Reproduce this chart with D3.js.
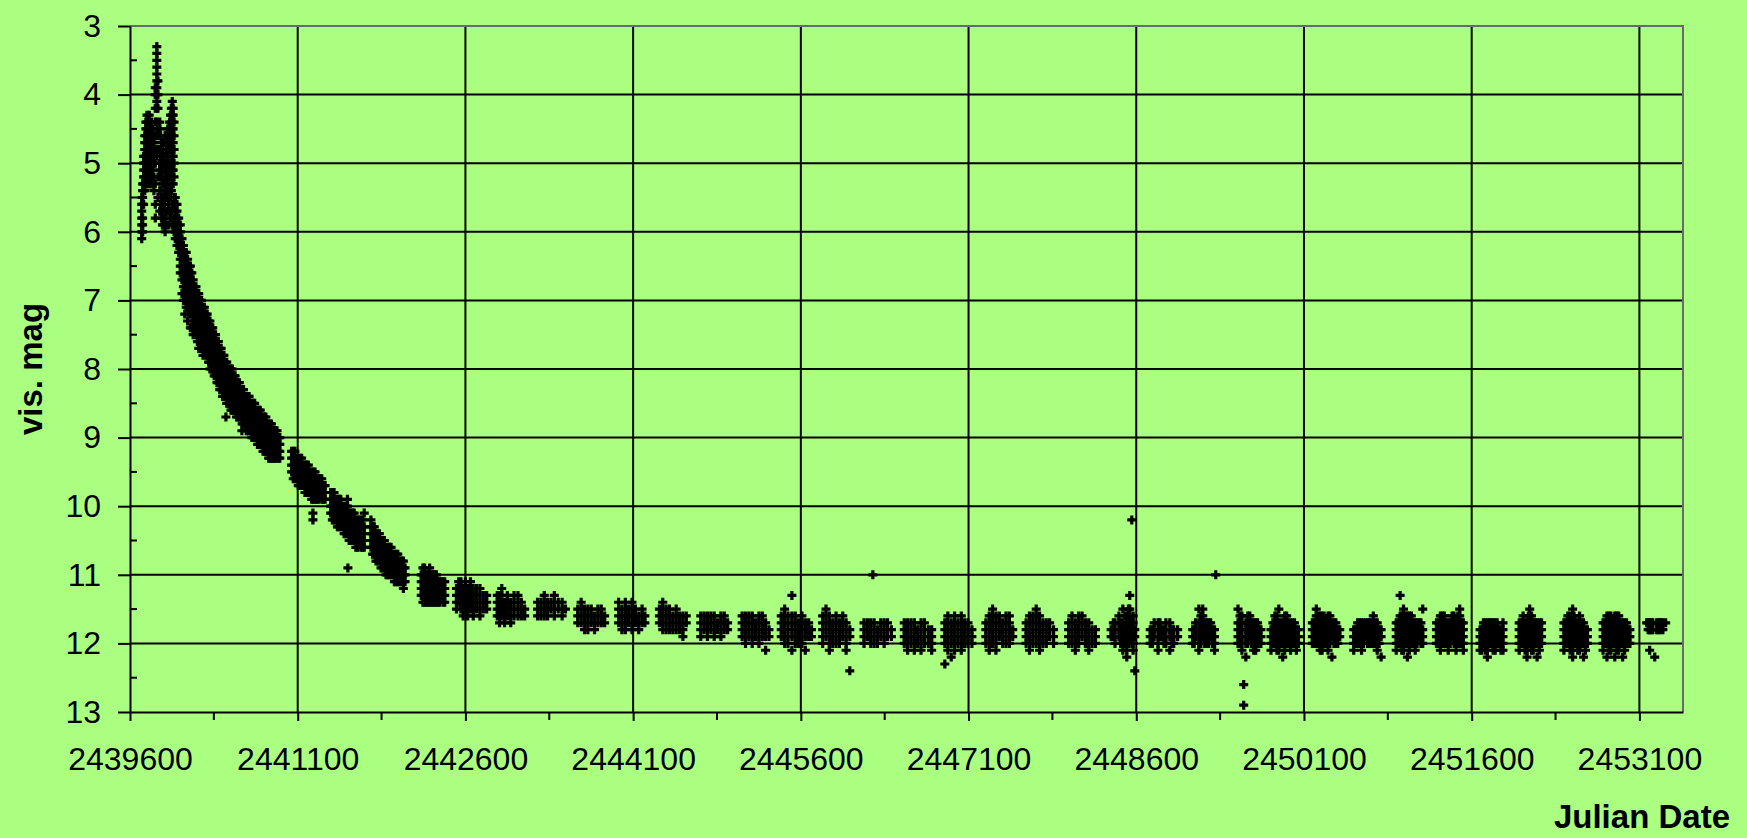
<!DOCTYPE html>
<html>
<head>
<meta charset="utf-8">
<script src="https://cdn.jsdelivr.net/npm/d3@7"></script>
<style>
  html, body { margin: 0; padding: 0; background: #abff80; }
  svg { display: block; }
  text { font-family: "Liberation Sans", Arial, sans-serif; fill: #000; }
</style>
</head>
<body>
<svg id="chart" width="1747" height="838"></svg>
<script>
// Julian Dates are stored reduced (JD - 2400000); the axis adds the base back.
const JD_BASE = 2400000;

// Axis ticks
const xTicks = [39600, 41100, 42600, 44100, 45600, 47100, 48600, 50100, 51600, 53100];
const xMinorTicks = [40350, 41850, 43350, 44850, 46350, 47850, 49350, 50850, 52350];
const yTicks = [3, 4, 5, 6, 7, 8, 9, 10, 11, 12, 13];
const yMinorTicks = [3.5, 4.5, 5.5, 6.5, 7.5, 8.5, 9.5, 10.5, 11.5, 12.5];

// Visual estimates: each entry is [reduced JD, [magnitudes reported that night]]
const obs1967 = [
  [39705,[5.5,5.6,5.7,5.8,5.9,6.0,6.1]],[39713,[5.3,5.4,5.5,5.6,5.8,5.9,6.0]],
  [39722,[4.9,5.0,5.1,5.2,5.3,5.4,5.6]],[39732,[4.6,4.7,4.8,4.9,5.0,5.1,5.2,5.3,5.4]],
  [39742,[4.4,4.5,4.6,4.7,4.8,4.9,5.0,5.2,5.3]],[39752,[4.3,4.4,4.5,4.6,4.8,4.9,5.0,5.1,5.3]],
  [39762,[4.4,4.5,4.6,4.7,4.8,5.0,5.1,5.2]],[39772,[4.3,4.5,4.6,4.7,4.9,5.0,5.2,5.3]],
  [39782,[4.5,4.6,4.7,4.8,4.9,5.0,5.1,5.3]],[39792,[4.4,4.5,4.6,4.8,4.9,5.0,5.2]],
  [39802,[4.5,4.6,4.7,4.8,5.0,5.1,5.3]],[39814,[4.6,4.7,4.9,5.0,5.2,5.4]],
  [39826,[3.9,4.0,4.2,4.4,4.6,4.8,5.0,5.3,5.6,5.8]],
  [39840,[3.3,3.4,3.5,3.6,3.7,3.8,3.9,4.0,4.1,4.2,4.4,4.6,4.9]],
  [39850,[3.8,4.0,4.2,4.5,4.8,5.2,5.5]]
];
const obs1968 = [
  [39866,[4.4,4.5,4.6,4.8,5.0,5.1,5.4,5.7]],[39874,[4.6,4.8,4.9,5.2,5.4,5.6]],
  [39882,[4.7,4.9,5.1,5.2,5.5,5.8]],[39890,[4.8,5.0,5.3,5.5,5.7,5.9]],
  [39898,[4.9,5.0,5.3,5.6,5.9]],[39906,[4.7,4.9,5.1,5.4,5.6,5.8]],
  [39914,[4.6,5.0,5.2,5.5,5.8,6.0]],[39922,[4.6,4.8,5.0,5.3,5.5,5.7]],
  [39930,[4.6,4.8,5.1,5.4,5.7,5.9]],[39938,[4.5,4.7,4.9,5.2,5.5]],
  [39946,[4.5,4.7,5.0,5.3,5.6,5.9]],[39954,[4.4,4.6,4.8,5.1,5.4,5.7]],
  [39962,[4.3,4.5,4.7,4.8,5.0,5.2,5.5,5.8]],[39970,[4.2,4.4,4.6,4.9,5.1,5.4,5.7]],
  [39978,[4.1,4.2,4.3,4.4,4.5,4.6,4.8,4.9,5.1,5.3,5.6,5.9]],
  [39986,[4.2,4.3,4.5,4.7,4.9,5.1,5.3,5.6,5.9]],[39994,[4.4,4.6,4.8,5.0,5.2,5.5,5.8,6.0]],
  [40005,[5.5,5.6,5.7,5.8,5.9,6.0,6.1]],[40020,[5.6,5.7,5.8,5.9,6.0,6.1,6.2]],
  [40035,[5.8,5.9,6.0,6.1,6.2,6.3]],[40050,[5.9,6.0,6.1,6.2,6.3,6.4,6.5,6.6]],
  [40065,[6.1,6.2,6.3,6.4,6.5,6.6,6.7,6.9]],[40078,[6.2,6.3,6.5,6.6,6.8,7.0]],
  [40090,[6.3,6.4,6.5,6.6,6.7,6.8,6.9,7.0,7.2]],[40103,[6.3,6.5,6.6,6.8,6.9,7.1]],
  [40115,[6.4,6.5,6.6,6.7,6.8,6.9,7.0,7.1,7.3]],[40128,[6.5,6.6,6.8,6.9,7.1,7.2]],
  [40140,[6.5,6.6,6.7,6.8,6.9,7.0,7.1,7.2,7.4]],[40153,[6.6,6.8,6.9,7.1,7.2,7.4]],
  [40165,[6.7,6.8,6.9,7.0,7.1,7.2,7.3,7.5]],[40178,[6.8,6.9,7.0,7.2,7.3,7.4]],
  [40190,[6.8,6.9,7.0,7.1,7.2,7.3,7.4,7.5]]
];
const obs1969 = [
  [40203,[6.9,7.0,7.1,7.3,7.4,7.6]],[40215,[6.9,7.0,7.1,7.2,7.3,7.4,7.5,7.7]],
  [40228,[7.0,7.1,7.2,7.4,7.5,7.6]],[40240,[7.0,7.1,7.2,7.3,7.4,7.5,7.6,7.7]],
  [40253,[7.1,7.2,7.3,7.5,7.6,7.8]],[40265,[7.1,7.2,7.3,7.4,7.5,7.6,7.7]],
  [40278,[7.2,7.3,7.4,7.6,7.7,7.8]],[40290,[7.2,7.3,7.4,7.5,7.6,7.7,7.8]],
  [40303,[7.3,7.4,7.5,7.6,7.8,7.9]],[40315,[7.3,7.4,7.5,7.6,7.7,7.8,7.9,8.0]],
  [40328,[7.4,7.5,7.6,7.8,7.9,8.0]],[40340,[7.4,7.5,7.6,7.7,7.8,7.9,8.0]],
  [40353,[7.5,7.6,7.7,7.9,8.0,8.1]],[40365,[7.5,7.6,7.7,7.8,7.9,8.0,8.1]],
  [40378,[7.6,7.7,7.8,8.0,8.1,8.2]],[40390,[7.6,7.7,7.8,7.9,8.0,8.1,8.2]],
  [40403,[7.7,7.8,7.9,8.1,8.2,8.3]],[40415,[7.7,7.8,7.9,8.0,8.1,8.2,8.3]],
  [40428,[7.8,7.9,8.0,8.2,8.3,8.4]],[40440,[7.8,7.9,8.0,8.1,8.2,8.3,8.4]],
  [40453,[7.9,8.0,8.1,8.3,8.4]],[40458,[8.7]],[40465,[7.9,8.0,8.1,8.2,8.3,8.4,8.5]],
  [40478,[8.0,8.1,8.2,8.4,8.5]],[40490,[8.0,8.1,8.2,8.3,8.4,8.5]],
  [40503,[8.0,8.2,8.3,8.4,8.6]],[40515,[8.0,8.1,8.2,8.3,8.4,8.5,8.6]],
  [40528,[8.1,8.2,8.4,8.5,8.6]],[40540,[8.1,8.2,8.3,8.4,8.5,8.6]],
  [40553,[8.2,8.3,8.4,8.6,8.7]],[40565,[8.2,8.3,8.4,8.5,8.6,8.7]]
];
const obs1970 = [
  [40578,[8.2,8.3,8.5,8.6,8.7]],[40590,[8.3,8.4,8.5,8.6,8.7]],[40601,[8.9]],
  [40603,[8.3,8.4,8.6,8.7,8.8]],[40615,[8.3,8.4,8.5,8.6,8.7,8.8]],
  [40628,[8.4,8.5,8.6,8.7,8.8]],[40640,[8.4,8.5,8.6,8.7,8.8,8.9]],
  [40653,[8.4,8.5,8.7,8.8,8.9]],[40665,[8.4,8.5,8.6,8.7,8.8,8.9]],
  [40678,[8.5,8.6,8.7,8.8,8.9]],[40690,[8.5,8.6,8.7,8.8,8.9,9.0]],
  [40703,[8.5,8.6,8.8,8.9,9.0]],[40715,[8.5,8.6,8.7,8.8,8.9,9.0]],
  [40728,[8.6,8.7,8.8,8.9,9.0]],[40740,[8.6,8.7,8.8,8.9,9.0,9.1]],
  [40753,[8.6,8.7,8.9,9.0,9.1]],[40765,[8.6,8.7,8.8,8.9,9.0,9.1]],
  [40778,[8.7,8.8,8.9,9.0,9.1]],[40790,[8.7,8.8,8.9,9.0,9.1,9.2]],
  [40803,[8.7,8.8,9.0,9.1,9.2]],[40815,[8.7,8.8,8.9,9.0,9.1,9.2]],
  [40828,[8.8,8.9,9.0,9.1,9.2]],[40840,[8.8,8.9,9.0,9.1,9.2,9.3]],
  [40853,[8.8,8.9,9.0,9.2,9.3]],[40865,[8.8,8.9,9.0,9.1,9.2,9.3]],
  [40878,[8.9,9.0,9.1,9.2,9.3]],[40890,[8.9,9.0,9.1,9.2,9.3]],
  [40903,[8.9,9.0,9.2,9.3]],[40915,[8.9,9.0,9.1,9.2]],
  [40928,[9.0,9.1,9.2,9.3]],[40940,[9.0,9.1,9.2,9.3]]
];
const obs1971 = [
  [41045,[9.2,9.3,9.4,9.5]],[41060,[9.2,9.3,9.4,9.5,9.6]],[41075,[9.2,9.3,9.4,9.5,9.6]],
  [41090,[9.3,9.4,9.5,9.6]],[41105,[9.3,9.4,9.5,9.6,9.7]],[41120,[9.3,9.4,9.5,9.6,9.7]],
  [41135,[9.3,9.4,9.5,9.6,9.7]],[41150,[9.4,9.5,9.6,9.7]],[41165,[9.4,9.5,9.6,9.7,9.8]],
  [41180,[9.4,9.5,9.6,9.7,9.8]],[41195,[9.4,9.5,9.6,9.7,9.8]],[41210,[9.5,9.6,9.7,9.8]],
  [41225,[9.5,9.6,9.7,9.8,9.9]],[41236,[10.1,10.2]],[41240,[9.5,9.6,9.7,9.8,9.9]],
  [41255,[9.5,9.6,9.7,9.8,9.9]],[41270,[9.6,9.7,9.8,9.9]],[41285,[9.6,9.7,9.8,9.9]],
  [41300,[9.6,9.7,9.8]],[41315,[9.6,9.7,9.8,9.9]],[41330,[9.7,9.8,9.9]],[41345,[9.7,9.8,9.9]]
];
const obs1972 = [
  [41395,[9.8,9.9,10.0,10.1]],[41410,[9.8,9.9,10.0,10.1,10.2]],[41425,[9.8,9.9,10.0,10.1,10.2]],
  [41440,[9.9,10.0,10.1,10.2]],[41455,[9.9,10.0,10.1,10.2,10.3]],[41470,[9.9,10.0,10.1,10.2,10.3]],
  [41485,[9.9,10.0,10.1,10.2,10.3]],[41500,[10.0,10.1,10.2,10.3]],[41515,[10.0,10.1,10.2,10.3,10.4]],
  [41530,[10.0,10.1,10.2,10.3,10.4]],[41545,[9.9,10.0,10.1,10.2,10.3,10.4]],[41549,[10.9]],
  [41560,[10.1,10.2,10.3,10.4,10.5]],[41575,[10.1,10.2,10.3,10.4,10.5]],
  [41590,[10.1,10.2,10.3,10.4,10.5]],[41605,[10.1,10.2,10.3,10.4,10.5]],
  [41620,[10.2,10.3,10.4,10.5,10.6]],[41635,[10.2,10.3,10.4,10.5,10.6]],
  [41650,[10.2,10.3,10.4,10.5]],[41665,[10.2,10.3,10.4,10.5,10.6]],
  [41680,[10.2,10.3,10.5,10.6]],[41695,[10.1,10.3,10.4,10.5,10.6]]
];
const obs1973 = [
  [41755,[10.2,10.3,10.4,10.5,10.6]],[41770,[10.3,10.4,10.5,10.6,10.7]],
  [41785,[10.3,10.4,10.5,10.6,10.7]],[41800,[10.4,10.5,10.6,10.7,10.8]],
  [41815,[10.4,10.5,10.6,10.7,10.8]],[41830,[10.4,10.5,10.6,10.7,10.8]],
  [41845,[10.5,10.6,10.7,10.8,10.9]],[41860,[10.5,10.6,10.7,10.8,10.9]],
  [41875,[10.5,10.6,10.7,10.8,10.9]],[41890,[10.6,10.7,10.8,10.9,11.0]],
  [41905,[10.6,10.7,10.8,10.9,11.0]],[41920,[10.6,10.7,10.8,10.9,11.0]],
  [41935,[10.6,10.7,10.8,10.9,11.0]],[41950,[10.7,10.8,10.9,11.0]],
  [41965,[10.7,10.8,10.9,11.0,11.1]],[41980,[10.7,10.8,10.9,11.0,11.1]],
  [41995,[10.7,10.8,10.9,11.0,11.1]],[42012,[10.8,10.9,11.0,11.1]],
  [42030,[10.8,10.9,11.0,11.1]],[42045,[10.8,10.9,11.0,11.1,11.2]],[42060,[10.9,11.0,11.1]]
];
const obs1974 = [
  [42205,[11.0,11.1,11.2,11.3]],[42220,[10.9,11.0,11.1,11.2,11.3,11.4]],
  [42235,[10.9,11.0,11.1,11.2,11.3,11.4]],[42250,[11.0,11.1,11.2,11.3,11.4]],
  [42265,[11.0,11.1,11.2,11.3,11.4]],[42280,[10.9,11.0,11.1,11.2,11.3,11.4]],
  [42295,[11.0,11.1,11.2,11.3,11.4]],[42310,[11.0,11.1,11.2,11.3,11.4]],
  [42325,[11.0,11.1,11.2,11.3,11.4]],[42340,[11.0,11.1,11.2,11.3,11.4]],
  [42355,[11.1,11.2,11.3,11.4]],[42370,[11.1,11.2,11.3,11.4]],
  [42385,[11.1,11.2,11.3]],[42400,[11.1,11.2,11.3,11.4]],[42415,[11.1,11.2,11.3,11.4]]
];
const obs1975 = [
  [42520,[11.2,11.3,11.4,11.5]],[42540,[11.1,11.2,11.3,11.4]],[42560,[11.1,11.2,11.3,11.4,11.5]],
  [42580,[11.2,11.3,11.4,11.5,11.6]],[42600,[11.1,11.3,11.4,11.5]],[42620,[11.2,11.3,11.4,11.5,11.6]],
  [42645,[11.1,11.2,11.3,11.4,11.5]],[42670,[11.2,11.3,11.4,11.5,11.6]],
  [42700,[11.2,11.3,11.4,11.5]],[42730,[11.2,11.3,11.4,11.5,11.6]],
  [42760,[11.3,11.4,11.5]],[42790,[11.3,11.4,11.5]]
];
const obs1976 = [
  [42885,[11.3,11.4,11.5,11.6]],[42905,[11.3,11.4,11.5,11.6,11.7]],[42925,[11.2,11.3,11.4,11.5,11.6]],
  [42950,[11.4,11.5,11.6,11.7]],[42975,[11.3,11.4,11.5,11.6]],[43005,[11.4,11.5,11.6,11.7]],
  [43035,[11.3,11.4,11.5,11.6]],[43070,[11.3,11.4,11.5,11.6]],[43100,[11.4,11.5,11.6]],
  [43130,[11.5,11.6]]
];
const obs1977 = [
  [43245,[11.4,11.5,11.6]],[43275,[11.4,11.5,11.6]],[43305,[11.3,11.4,11.5,11.6]],
  [43335,[11.4,11.5,11.6]],[43365,[11.4,11.5]],[43395,[11.3,11.4,11.5,11.6]],
  [43430,[11.4,11.5]],[43465,[11.4,11.5,11.6]],[43495,[11.5]]
];
const obs1978 = [
  [43605,[11.5,11.6,11.7]],[43635,[11.4,11.5,11.6,11.7]],[43665,[11.5,11.6,11.7,11.8]],
  [43695,[11.5,11.6,11.7,11.8]],[43725,[11.5,11.6,11.7]],[43755,[11.6,11.7,11.8]],
  [43785,[11.5,11.6,11.7]],[43815,[11.5,11.6,11.7]],[43845,[11.6,11.7]]
];
const obs1979 = [
  [43970,[11.4,11.5,11.6,11.7]],[44000,[11.5,11.6,11.7,11.8]],[44030,[11.4,11.5,11.6,11.7,11.8]],
  [44060,[11.5,11.6,11.7]],[44090,[11.4,11.5,11.6,11.7,11.8]],[44120,[11.5,11.6,11.7]],
  [44150,[11.6,11.7,11.8]],[44180,[11.5,11.6,11.7]],[44205,[11.6,11.7]]
];
const obs1980 = [
  [44335,[11.5,11.6,11.7]],[44365,[11.4,11.5,11.6,11.7,11.8]],[44395,[11.5,11.6,11.7,11.8]],
  [44425,[11.5,11.6,11.7,11.8]],[44455,[11.6,11.7,11.8]],[44485,[11.5,11.6,11.7,11.8]],
  [44515,[11.6,11.7,11.8]],[44545,[11.6,11.7,11.8,11.9]],[44575,[11.6,11.7]]
];
const obs1981 = [
  [44705,[11.6,11.7,11.8,11.9]],[44735,[11.6,11.7,11.8]],[44765,[11.6,11.7,11.8,11.9]],
  [44795,[11.6,11.7,11.8]],[44825,[11.6,11.7,11.8,11.9]],[44855,[11.7,11.8]],
  [44885,[11.6,11.7,11.8,11.9]],[44915,[11.6,11.7,11.8]],[44945,[11.7,11.8]]
];
const obs1982 = [
  [45075,[11.6,11.7,11.8,11.9]],[45105,[11.6,11.7,11.8,11.9,12.0]],[45135,[11.6,11.7,11.8,11.9]],
  [45165,[11.6,11.7,11.8,11.9,12.0]],[45195,[11.7,11.8,11.9]],[45225,[11.6,11.7,11.8,11.9,12.0]],
  [45255,[11.6,11.7,11.8,11.9]],[45285,[11.7,11.8,11.9,12.1]],[45315,[11.8,11.9]]
];
const obs1983 = [
  [45425,[11.6,11.7,11.8,11.9]],[45455,[11.5,11.6,11.7,11.8,11.9,12.0]],
  [45485,[11.6,11.7,11.8,11.9,12.0]],[45520,[11.3,11.6,11.7,11.8,11.9,12.1]],
  [45550,[11.6,11.7,11.8,11.9,12.0]],[45580,[11.7,11.8,11.9,12.0]],
  [45610,[11.6,11.7,11.8,11.9,12.0]],[45640,[11.7,11.8,11.9,12.1]],
  [45670,[11.7,11.8,11.9]],[45695,[11.8,11.9]]
];
const obs1984 = [
  [45795,[11.6,11.7,11.8,11.9,12.0]],[45825,[11.5,11.6,11.7,11.8,11.9]],
  [45855,[11.6,11.7,11.8,11.9,12.0,12.1]],[45885,[11.7,11.8,11.9,12.0]],
  [45915,[11.6,11.7,11.8,11.9,12.0]],[45945,[11.7,11.8,11.9,12.0]],
  [45975,[11.6,11.7,11.8,11.9]],[46005,[11.7,11.8,11.9,12.0,12.1]],[46038,[11.8,11.9,12.4]]
];
const obs1985 = [
  [46165,[11.7,11.8,11.9,12.0]],[46195,[11.7,11.8,11.9]],[46225,[11.7,11.8,11.9,12.0]],
  [46244,[11.0]],[46255,[11.7,11.8,11.9,12.0]],[46285,[11.8,11.9,12.0]],
  [46315,[11.7,11.8,11.9]],[46345,[11.7,11.8,11.9,12.0]],[46375,[11.7,11.8,11.9]],
  [46410,[11.8,11.9]]
];
const obs1986 = [
  [46525,[11.7,11.8,11.9,12.0]],[46555,[11.7,11.8,11.9,12.0,12.1]],[46585,[11.7,11.8,11.9,12.0]],
  [46615,[11.7,11.8,11.9,12.0,12.1]],[46645,[11.8,11.9,12.0]],[46675,[11.7,11.8,11.9,12.0,12.1]],
  [46705,[11.7,11.8,11.9,12.0]],[46740,[11.8,11.9,12.0]],[46770,[11.8,11.9,12.0,12.1]]
];
const obs1987 = [
  [46888,[11.7,11.8,11.9,12.0,12.3]],[46915,[11.6,11.7,11.8,11.9,12.0,12.1]],
  [46945,[11.7,11.8,11.9,12.0,12.2]],[46975,[11.6,11.7,11.8,11.9,12.0,12.1]],
  [47005,[11.7,11.8,11.9,12.0]],[47035,[11.6,11.7,11.8,11.9,12.0,12.1]],
  [47065,[11.7,11.8,11.9,12.0]],[47095,[11.7,11.8,11.9,12.0]],[47130,[11.8,11.9,12.0]]
];
const obs1988 = [
  [47255,[11.7,11.8,11.9,12.0]],[47285,[11.6,11.7,11.8,11.9,12.0,12.1]],
  [47315,[11.5,11.6,11.7,11.8,11.9,12.0]],[47345,[11.6,11.7,11.8,11.9,12.0,12.1]],
  [47375,[11.6,11.7,11.8,11.9]],[47405,[11.7,11.8,11.9,12.0]],
  [47435,[11.6,11.7,11.8,11.9,12.0]],[47465,[11.6,11.7,11.8,11.9,12.0]],[47495,[11.8,11.9]]
];
const obs1989 = [
  [47615,[11.7,11.8,11.9,12.0]],[47645,[11.6,11.7,11.8,11.9,12.0,12.1]],
  [47675,[11.6,11.7,11.8,11.9,12.0]],[47705,[11.5,11.6,11.7,11.8,11.9,12.0]],
  [47735,[11.6,11.7,11.8,11.9,12.0,12.1]],[47765,[11.7,11.8,11.9,12.0]],
  [47795,[11.7,11.8,11.9,12.0]],[47825,[11.7,11.8,11.9]],[47860,[11.8,11.9,12.0]]
];
const obs1990 = [
  [47995,[11.7,11.8,11.9,12.0]],[48025,[11.6,11.7,11.8,11.9,12.0]],
  [48055,[11.7,11.8,11.9,12.0,12.1]],[48085,[11.6,11.7,11.8,11.9,12.0]],
  [48115,[11.6,11.7,11.8,11.9]],[48145,[11.7,11.8,11.9,12.0]],
  [48175,[11.7,11.8,11.9,12.0,12.1]],[48205,[11.8,11.9,12.0]],[48235,[11.8,11.9,12.0]]
];
const obs1991 = [
  [48375,[11.8,11.9]],[48395,[11.7,11.8,11.9]],[48410,[11.7,11.8,11.9,12.0]],
  [48445,[11.6,11.7,11.8,11.9]],[48460,[11.7,11.8,11.9,12.0]],
  [48480,[11.5,11.7,11.8,11.9,12.0,12.1]],[48500,[11.6,11.8,11.9,12.0]],
  [48515,[11.6,11.7,11.8,11.9,12.0,12.1,12.2]],[48530,[11.5,11.7,11.8,11.9,12.0]],
  [48542,[11.3,11.5,11.6,11.7,11.8,11.9]],[48560,[10.2,11.7,11.8,11.9,12.0]],
  [48572,[11.6,11.7,11.9,12.0,12.1]],[48587,[11.8,11.9,12.4]]
];
const obs1992 = [
  [48725,[11.8,11.9,12.0]],[48745,[11.8,11.9,12.0]],[48760,[11.7,11.8,11.9]],
  [48795,[11.7,11.8,11.9,12.0,12.1]],[48812,[11.7,11.8,11.9]],[48830,[11.8,11.9]],
  [48848,[11.8,11.9,12.0]],[48865,[11.7,11.8,11.9,12.0]],[48900,[11.7,11.8,11.9,12.1]],
  [48918,[11.8,11.9,12.0]],[48935,[11.8,11.9,12.0]],[48970,[11.8,11.9]]
];
const obs1993 = [
  [49105,[11.8,11.9,12.0]],[49118,[11.8,11.9,12.0]],[49130,[11.7,11.8,11.9]],
  [49160,[11.5,11.7,11.8,11.9,12.0,12.1]],[49178,[11.6,11.7,11.8,11.9,12.0]],
  [49195,[11.5,11.6,11.7,11.8,11.9]],[49212,[11.7,11.8,11.9,12.0]],
  [49230,[11.7,11.8,11.9,12.0]],[49248,[11.7,11.8,11.9,12.0]],[49265,[11.7,11.8,11.9]],
  [49282,[11.8,11.9,12.0]],[49300,[11.8,11.9,12.0,12.1]],[49311,[11.0]]
];
const obs1994 = [
  [49510,[11.5,11.7,11.8,11.9,12.0]],[49528,[11.6,11.7,11.8,11.9,12.0]],
  [49545,[11.6,11.7,11.8,11.9,12.0,12.1]],[49561,[12.6,12.9]],
  [49580,[11.7,11.8,11.9,12.0,12.2]],[49598,[11.6,11.7,11.8,11.9,12.0]],
  [49615,[11.6,11.7,11.8,11.9]],[49632,[11.7,11.8,11.9,12.0]],
  [49650,[11.7,11.8,11.9,12.0,12.1]],[49668,[11.7,11.8,11.9,12.0,12.1]],
  [49685,[11.7,11.8,11.9,12.0]],[49700,[11.8,11.9,12.0]],[49715,[11.8,11.9,12.0]]
];
const obs1995 = [
  [49805,[11.8,11.9,12.0,12.1]],[49822,[11.7,11.8,11.9,12.0]],[49840,[11.6,11.7,11.8,11.9,12.0]],
  [49858,[11.6,11.7,11.8,11.9,12.0,12.1]],[49875,[11.5,11.7,11.8,11.9,12.0,12.1]],
  [49892,[11.7,11.8,11.9,12.0]],[49910,[11.7,11.8,11.9,12.0,12.2]],
  [49928,[11.6,11.7,11.8,11.9,12.0,12.1]],[49945,[11.6,11.7,11.8,11.9,12.0]],
  [49962,[11.7,11.8,11.9,12.0]],[49980,[11.7,11.8,11.9,12.0,12.1]],
  [49998,[11.7,11.8,11.9,12.0]],[50015,[11.7,11.8,11.9,12.0]],
  [50032,[11.8,11.9,12.0,12.1]],[50050,[11.8,11.9,12.0]]
];
const obs1996 = [
  [50175,[11.7,11.8,11.9,12.0]],[50192,[11.7,11.8,11.9,12.0]],
  [50210,[11.5,11.6,11.7,11.8,11.9,12.0]],[50228,[11.6,11.7,11.8,11.9,12.0]],
  [50245,[11.6,11.7,11.8,11.9,12.0,12.1]],[50262,[11.6,11.7,11.8,11.9,12.0,12.1]],
  [50280,[11.6,11.7,11.8,11.9,12.0]],[50298,[11.7,11.8,11.9,12.0]],
  [50315,[11.6,11.7,11.8,11.9,12.0,12.1]],[50332,[11.6,11.7,11.8,11.9,12.0]],
  [50350,[11.7,11.8,11.9,12.2]],[50368,[11.7,11.8,11.9,12.0]],
  [50385,[11.7,11.8,11.9,12.0]],[50402,[11.8,11.9,12.0]],[50420,[11.8,11.9]]
];
const obs1997 = [
  [50545,[11.8,11.9,12.0,12.1]],[50562,[11.8,11.9,12.0]],[50580,[11.7,11.8,11.9,12.0]],
  [50598,[11.7,11.8,11.9,12.0]],[50615,[11.7,11.8,11.9,12.0,12.1]],[50632,[11.7,11.8,11.9,12.0]],
  [50650,[11.7,11.8,11.9]],[50668,[11.7,11.8,11.9,12.0]],[50685,[11.7,11.8,11.9,12.0]],
  [50702,[11.7,11.8,11.9,12.0]],[50720,[11.6,11.7,11.8,11.9,12.0]],
  [50738,[11.7,11.8,11.9,12.0]],[50755,[11.7,11.8,11.9,12.0,12.1]],
  [50772,[11.8,11.9,12.0]],[50790,[11.8,11.9,12.2]]
];
const obs1998 = [
  [50925,[11.7,11.8,11.9,12.0,12.1]],[50942,[11.7,11.8,11.9,12.0]],
  [50960,[11.3,11.6,11.7,11.8,11.9,12.0]],[50975,[11.6,11.7,11.8,11.9,12.0,12.1]],
  [50990,[11.5,11.6,11.7,11.8,11.9,12.0,12.1]],[51008,[11.6,11.7,11.8,11.9,12.0]],
  [51025,[11.6,11.7,11.8,11.9,12.0,12.2]],[51042,[11.6,11.7,11.8,11.9,12.0,12.1]],
  [51060,[11.6,11.7,11.8,11.9,12.0]],[51078,[11.7,11.8,11.9,12.0]],
  [51095,[11.7,11.8,11.9,12.0,12.1]],[51112,[11.7,11.8,11.9,12.0]],
  [51130,[11.7,11.8,11.9]],[51146,[11.7,11.8,11.9,12.0]],[51162,[11.5,11.8,11.9,12.0]]
];
const obs1999 = [
  [51285,[11.7,11.8,11.9,12.0]],[51302,[11.7,11.8,11.9,12.0]],
  [51320,[11.6,11.7,11.8,11.9,12.0,12.1]],[51338,[11.6,11.7,11.8,11.9,12.0]],
  [51355,[11.6,11.7,11.8,11.9,12.0]],[51372,[11.7,11.8,11.9,12.0]],
  [51390,[11.7,11.8,11.9,12.0,12.1]],[51408,[11.7,11.8,11.9,12.0]],
  [51425,[11.6,11.7,11.8,11.9]],[51442,[11.6,11.7,11.8,11.9,12.0]],
  [51460,[11.7,11.8,11.9,12.0,12.1]],[51476,[11.6,11.7,11.8,11.9,12.0]],
  [51493,[11.5,11.6,11.7,11.8,11.9,12.0]],[51510,[11.7,11.8,11.9,12.0]],
  [51525,[11.7,11.8,11.9,12.0,12.1]]
];
const obs2000 = [
  [51675,[11.8,11.9,12.0,12.1]],[51690,[11.8,11.9,12.0,12.1]],[51705,[11.7,11.8,11.9,12.0]],
  [51722,[11.7,11.8,11.9,12.0,12.1]],[51740,[11.7,11.8,11.9,12.0,12.1,12.2]],
  [51758,[11.7,11.8,11.9,12.0]],[51775,[11.7,11.8,11.9,12.0]],
  [51792,[11.7,11.8,11.9,12.0,12.1]],[51810,[11.7,11.8,11.9,12.0,12.1]],
  [51828,[11.7,11.8,11.9,12.0]],[51845,[11.8,11.9,12.0]],
  [51862,[11.8,11.9,12.0,12.1]],[51880,[11.7,11.8,11.9,12.0,12.1]]
];
const obs2001 = [
  [52025,[11.7,11.8,11.9,12.0,12.1]],[52042,[11.7,11.8,11.9,12.0]],
  [52060,[11.6,11.7,11.8,11.9,12.0]],[52078,[11.7,11.8,11.9,12.0,12.1]],
  [52095,[11.7,11.8,11.9,12.0,12.1,12.2]],[52107,[11.6,11.7,11.8,11.9,12.0]],
  [52119,[11.5,11.6,11.7,11.8,11.9,12.0]],[52135,[11.6,11.7,11.8,11.9,12.0,12.1]],
  [52150,[11.7,11.8,11.9,12.0,12.1]],[52168,[11.7,11.8,11.9,12.0]],
  [52185,[11.7,11.8,11.9,12.0,12.2]],[52205,[11.7,11.8,11.9,12.0,12.1]],
  [52225,[11.7,11.8,11.9,12.0]]
];
const obs2002 = [
  [52425,[11.7,11.8,11.9,12.0,12.1]],[52442,[11.7,11.8,11.9,12.0]],
  [52460,[11.6,11.7,11.8,11.9,12.0]],[52480,[11.6,11.7,11.8,11.9,12.0,12.1]],
  [52503,[11.5,11.6,11.7,11.8,11.9,12.0,12.1,12.2]],[52515,[11.6,11.7,11.8,11.9,12.0]],
  [52530,[11.7,11.8,11.9,12.0]],[52548,[11.7,11.8,11.9,12.0,12.1]],
  [52565,[11.6,11.7,11.8,11.9,12.0,12.1]],[52582,[11.7,11.8,11.9,12.0]],
  [52600,[11.7,11.8,11.9,12.0,12.2]],[52618,[11.8,11.9,12.0,12.1]],[52635,[11.8,11.9,12.0]]
];
const obs2003 = [
  [52775,[11.7,11.8,11.9,12.0,12.1]],[52792,[11.7,11.8,11.9,12.0]],
  [52810,[11.6,11.7,11.8,11.9,12.0,12.2]],[52828,[11.6,11.7,11.8,11.9,12.0,12.1]],
  [52845,[11.6,11.7,11.8,11.9,12.0,12.1]],[52862,[11.7,11.8,11.9,12.0]],
  [52880,[11.6,11.7,11.8,11.9,12.0,12.2]],[52898,[11.6,11.7,11.8,11.9,12.0,12.1]],
  [52915,[11.6,11.7,11.8,11.9,12.0,12.1]],[52932,[11.7,11.8,11.9,12.0]],
  [52950,[11.7,11.8,11.9,12.0,12.2]],[52968,[11.7,11.8,11.9,12.0,12.1]],
  [52985,[11.7,11.8,11.9,12.0]],[53000,[11.8,11.9,12.0]],[53015,[11.8,11.9,12.0]]
];
const obs2004 = [
  [53165,[11.7]],[53178,[11.7,11.8]],[53192,[11.7,11.8,12.1]],[53205,[11.7,11.8]],
  [53220,[11.7,11.8]],[53237,[12.2]],[53255,[11.7,11.8]],[53270,[11.7,11.8]],
  [53285,[11.7,11.8]],[53298,[11.7]],[53310,[11.7,11.8]],[53335,[11.7]]
];

const seasons = [obs1967, obs1968, obs1969, obs1970, obs1971, obs1972, obs1973,
  obs1974, obs1975, obs1976, obs1977, obs1978, obs1979, obs1980, obs1981, obs1982,
  obs1983, obs1984, obs1985, obs1986, obs1987, obs1988, obs1989, obs1990, obs1991,
  obs1992, obs1993, obs1994, obs1995, obs1996, obs1997, obs1998, obs1999, obs2000,
  obs2001, obs2002, obs2003, obs2004];

const points = [];
seasons.forEach(season => season.forEach(([jd, mags]) =>
  mags.forEach(mag => points.push({ jd, mag }))));

// Layout
const svg = d3.select("#chart");
const plot = { left: 130, top: 26, right: 1683, bottom: 712 };

const x = d3.scaleLinear().domain([39600, 53490]).range([plot.left, plot.right]);
const y = d3.scaleLinear().domain([3, 13]).range([plot.top, plot.bottom]);

// Grid
const grid = svg.append("g").attr("stroke", "#000").attr("stroke-width", 2);
grid.selectAll("line.h").data(yTicks.filter(d => d > 3 && d < 13)).join("line")
  .attr("x1", plot.left).attr("x2", plot.right)
  .attr("y1", d => y(d)).attr("y2", d => y(d));
grid.selectAll("line.v").data(xTicks.filter(d => d > 39600)).join("line")
  .attr("x1", d => x(d)).attr("x2", d => x(d))
  .attr("y1", plot.top).attr("y2", plot.bottom);

// Plot area frame (top and right)
svg.append("path")
  .attr("d", `M${plot.left},${plot.top}H${plot.right}V${plot.bottom}`)
  .attr("fill", "none").attr("stroke", "#6a6a6a").attr("stroke-width", 2);

// Observations as "+" markers
svg.append("g").attr("stroke", "#000").attr("stroke-width", 3.2).attr("fill", "none")
  .selectAll("path").data(points).join("path")
  .attr("transform", d => `translate(${x(d.jd)},${y(d.mag)})`)
  .attr("d", "M-4.5,0H4.5M0,-4.5V4.5");

// Axes
const xAxis = svg.append("g").attr("transform", `translate(0,${plot.bottom})`)
  .call(d3.axisBottom(x).tickValues(xTicks).tickFormat(d => String(JD_BASE + d))
    .tickSize(9).tickPadding(26).tickSizeOuter(0));
const yAxis = svg.append("g").attr("transform", `translate(${plot.left},0)`)
  .call(d3.axisLeft(y).tickValues(yTicks).tickFormat(d3.format("d"))
    .tickSize(12).tickPadding(17).tickSizeOuter(0));

[xAxis, yAxis].forEach(g => {
  g.select(".domain").attr("stroke", "#000").attr("stroke-width", 2);
  g.selectAll(".tick line").attr("stroke", "#000").attr("stroke-width", 2);
  g.selectAll(".tick text").attr("font-size", 32).attr("fill", "#000")
    .attr("font-family", "'Liberation Sans', Arial, sans-serif");
});

// Minor ticks: outward on x, inward on y
svg.append("g").attr("stroke", "#000").attr("stroke-width", 2)
  .selectAll("line").data(xMinorTicks).join("line")
  .attr("x1", d => x(d)).attr("x2", d => x(d))
  .attr("y1", plot.bottom).attr("y2", plot.bottom + 8);
svg.append("g").attr("stroke", "#000").attr("stroke-width", 2)
  .selectAll("line").data(yMinorTicks).join("line")
  .attr("x1", plot.left).attr("x2", plot.left + 7)
  .attr("y1", d => y(d)).attr("y2", d => y(d));

// Axis titles
svg.append("text")
  .attr("transform", "translate(42,369) rotate(-90)")
  .attr("text-anchor", "middle").attr("font-size", 33).attr("font-weight", "bold")
  .text("vis. mag");
svg.append("text")
  .attr("x", 1730).attr("y", 828)
  .attr("text-anchor", "end").attr("font-size", 33).attr("font-weight", "bold")
  .text("Julian Date");
</script>
</body>
</html>
